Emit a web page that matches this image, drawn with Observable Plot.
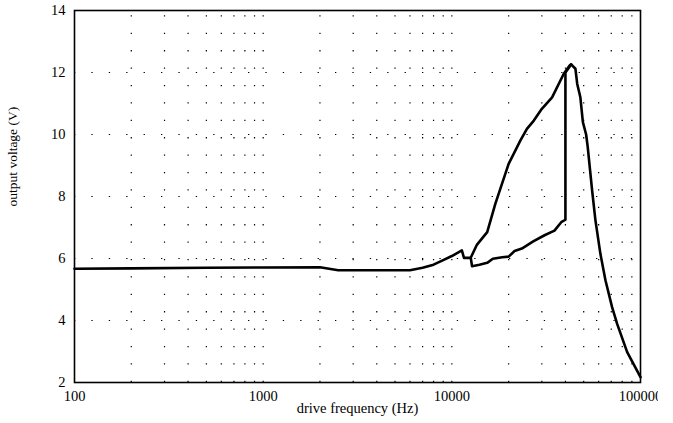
<!DOCTYPE html>
<html>
<head>
<meta charset="utf-8">
<script src="https://cdn.jsdelivr.net/npm/d3@7"></script>
<script src="https://cdn.jsdelivr.net/npm/@observablehq/plot@0.6"></script>
<style>
  html, body { margin: 0; padding: 0; background: white; }
  #chart { width: 673px; height: 423px; overflow: hidden; }
</style>
</head>
<body>
<div id="chart"></div>
<script>
// Frequency sweep upward: output voltage (V) vs drive frequency (Hz)
const upFreq = [100, 200, 500, 1000, 2000, 2500, 6000, 7000, 8000, 9000, 10000, 11300, 11600, 12600, 12800,
  14000, 15400, 16500, 18500, 20000, 21500, 23500, 27000, 31000, 35000, 38000, 40000, 40000,
  42900, 45200, 46200, 48000, 49500, 51500, 52500, 55400, 57700, 61300, 65200, 70700, 75200, 85000, 100000];
const upVolt = [5.67, 5.68, 5.70, 5.71, 5.72, 5.62, 5.62, 5.70, 5.80, 5.95, 6.08, 6.26, 6.02, 6.02, 5.75,
  5.80, 5.86, 5.99, 6.04, 6.06, 6.24, 6.32, 6.55, 6.75, 6.90, 7.17, 7.25, 12.0,
  12.26, 12.12, 11.63, 11.2, 10.4, 10.0, 9.6, 8.2, 7.23, 6.15, 5.3, 4.43, 3.89, 2.98, 2.17];

// Frequency sweep downward: the upper branch of the hysteresis loop
const downFreq = [12650, 13600, 15400, 17000, 20000, 23100, 25000, 27200, 30000, 34000, 39200, 42200, 42900];
const downVolt = [6.05, 6.45, 6.85, 7.76, 9.05, 9.81, 10.18, 10.45, 10.83, 11.2, 11.96, 12.23, 12.26];

// Axis ticks and dotted grid positions
const xTicks = [100, 1000, 10000, 100000];
const yTicks = [2, 4, 6, 8, 10, 12, 14];
const yGrid = [4, 6, 8, 10, 12];
const xGrid = [200, 300, 400, 500, 600, 700, 800, 900, 1000,
  2000, 3000, 4000, 5000, 6000, 7000, 8000, 9000, 10000,
  20000, 30000, 40000, 50000, 60000, 70000, 80000, 90000];

const up = upFreq.map((f, i) => ({f, v: upVolt[i]}));
const down = downFreq.map((f, i) => ({f, v: downVolt[i]}));

const chart = Plot.plot({
  width: 658,
  height: 423,
  marginLeft: 74,
  marginRight: 18,
  marginTop: 10,
  marginBottom: 41,
  style: {fontFamily: "'Liberation Serif', 'DejaVu Serif', serif", fontSize: "14.5px", color: "black", background: "white"},
  x: {type: "log", domain: [100, 100000]},
  y: {domain: [2, 14]},
  marks: [
    Plot.ruleX(xGrid, {x: d => d, y1: 2, y2: 14, stroke: "black", strokeWidth: 1.2, strokeDasharray: "1.3,16.1"}),
    Plot.ruleY(yGrid, {y: d => d, x1: 100, x2: 100000, stroke: "black", strokeWidth: 1.2, strokeDasharray: "1.3,16.1"}),
    Plot.axisX({ticks: xTicks, tickSize: 0, tickPadding: 8, tickFormat: d3.format("d"), label: null}),
    Plot.axisY({ticks: yTicks, tickSize: 0, tickPadding: 9, tickFormat: d3.format("d"), label: null}),
    Plot.frame({stroke: "black", strokeWidth: 1.6}),
    Plot.line(up, {x: "f", y: "v", stroke: "black", strokeWidth: 2.6, strokeLinejoin: "round"}),
    Plot.line(down, {x: "f", y: "v", stroke: "black", strokeWidth: 2.6, strokeLinejoin: "round"}),
    Plot.text(["drive frequency (Hz)"], {frameAnchor: "bottom", dy: 30, text: d => d, fill: "black", fontSize: 14.5}),
    Plot.text(["output voltage (V)"], {frameAnchor: "left", dx: -62, dy: 10, rotate: -90, text: d => d, fill: "black", fontSize: 13.5})
  ]
});

document.getElementById("chart").appendChild(chart);
</script>
</body>
</html>
